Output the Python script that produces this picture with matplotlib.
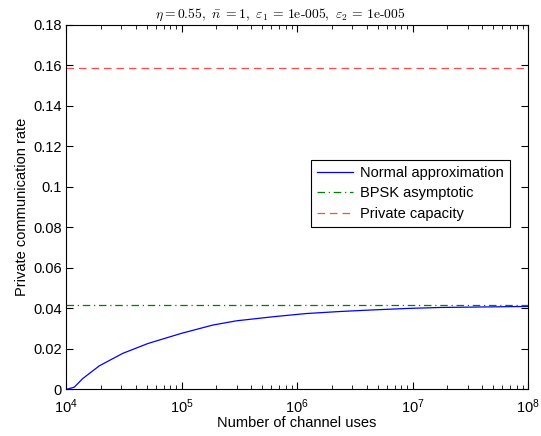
import matplotlib
matplotlib.use("Agg")
import matplotlib.pyplot as plt
import numpy as np

plt.rcParams['font.family'] = ['Liberation Sans', 'DejaVu Sans']
plt.rcParams['mathtext.fontset'] = 'cm'

# Data
log_n = [4.0, 4.072, 4.145, 4.289, 4.49, 4.709, 4.998, 5.27, 5.475, 5.79,
         6.08, 6.37, 6.66, 6.95, 7.24, 7.53, 8.0]
normal_approx = [0.0, 0.00115, 0.0054, 0.0117, 0.0178, 0.0227, 0.0277, 0.0318,
                 0.0339, 0.0359, 0.0375, 0.0385, 0.0393, 0.0400, 0.0405, 0.0407, 0.0410]
bpsk_asymptotic = 0.0415
private_capacity = 0.159

n = [10 ** v for v in log_n]

fig = plt.figure(figsize=(5.41, 4.36), dpi=100)
ax = fig.add_axes([0.122, 0.1067, 0.854, 0.836])

ax.plot(n, normal_approx, color='#0000ff', lw=0.9, label='Normal approximation')
ax.axhline(bpsk_asymptotic, color='#008000', lw=0.9, ls='-.', dashes=(6, 3, 1, 3),
           label='BPSK asymptotic')
ax.axhline(private_capacity, color='#ff4a4a', lw=0.9, ls='--', dashes=(6, 4),
           label='Private capacity')

ax.set_xscale('log')
ax.set_xlim(1e4, 1e8)
ax.set_ylim(0, 0.18)
ax.set_yticks(np.arange(0, 0.181, 0.02))
ax.set_yticklabels(['0', '0.02', '0.04', '0.06', '0.08', '0.1', '0.12', '0.14', '0.16', '0.18'])
ax.tick_params(which='both', direction='in', top=True, right=True, labelsize=10.5)
ax.tick_params(which='major', length=5)
ax.tick_params(which='minor', length=3)
ax.tick_params(axis='x', which='major', pad=6)
ax.tick_params(axis='y', which='major', pad=3)

ax.set_xlabel('Number of channel uses', fontsize=10.5, labelpad=0)
ax.set_ylabel('Private communication rate', fontsize=10.5, labelpad=3)
ax.set_title(r'$\eta=0.55,\ \bar{n}\ =1,\ \varepsilon_1\,=\,\mathrm{1e\text{-}005},\ \varepsilon_2\,=\,\mathrm{1e\text{-}005}$',
             fontsize=9.8, pad=5, x=0.463)

leg = ax.legend(loc='upper right', bbox_to_anchor=(0.961, 0.63), fontsize=10.5,
                frameon=True, fancybox=False, edgecolor='black', framealpha=1,
                borderaxespad=0, handlelength=2.5, labelspacing=0.45, borderpad=0.4,
                handletextpad=0.5)
leg.get_frame().set_linewidth(0.8)

fig.savefig('out.png', dpi=100)
